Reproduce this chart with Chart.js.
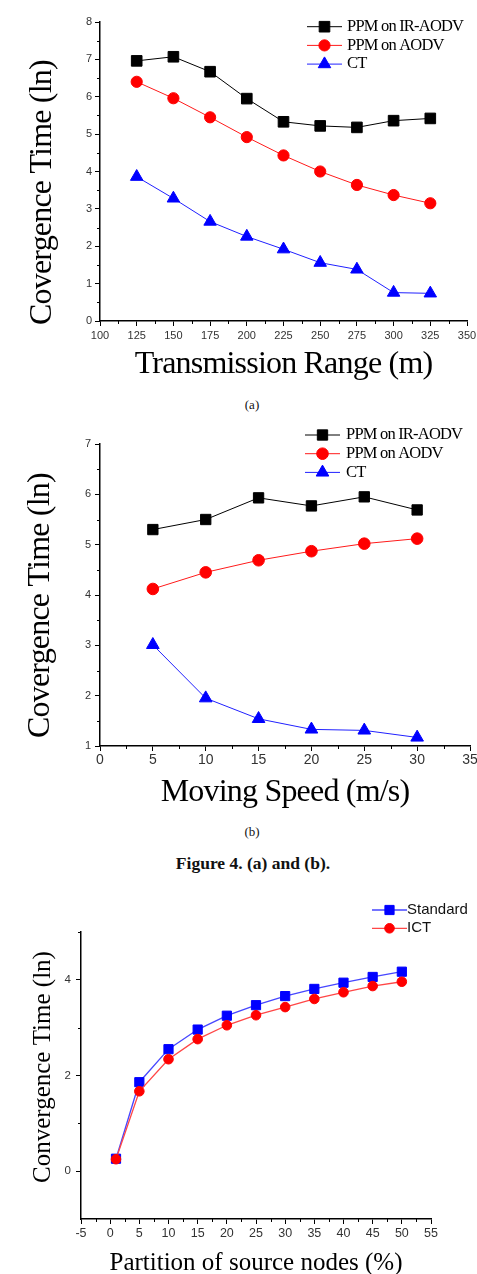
<!DOCTYPE html>
<html><head><meta charset="utf-8">
<script src="https://cdn.jsdelivr.net/npm/chart.js@4.4.0/dist/chart.umd.min.js"></script>
<style>
html,body{margin:0;padding:0;background:#fff;}
body{width:477px;height:1274px;overflow:hidden;position:relative;}
canvas{position:absolute;left:0;}
.cap{position:absolute;font-family:"Liberation Serif","Times New Roman",serif;color:#111;white-space:nowrap;transform:translateX(-50%);}
</style></head><body>
<canvas id="ca" width="490" height="392" style="top:0px"></canvas>
<div class="cap" style="left:252px;top:397px;font-size:13px;line-height:16px;">(a)</div>
<canvas id="cb" width="490" height="392" style="top:420px"></canvas>
<div class="cap" style="left:252px;top:824px;font-size:13px;line-height:16px;">(b)</div>
<div class="cap" style="left:253px;top:853px;font-size:17.5px;line-height:20px;font-weight:bold;">Figure 4. (a) and (b).</div>
<canvas id="cc" width="490" height="420" style="top:870px"></canvas>
<script>
// ---- Chart (a): Transmission Range ----
const xA = [125, 150, 175, 200, 225, 250, 275, 300, 325];
const irA = [6.96, 7.07, 6.67, 5.95, 5.33, 5.22, 5.18, 5.36, 5.42];
const aodvA = [6.40, 5.96, 5.45, 4.92, 4.43, 4.00, 3.64, 3.37, 3.15];
const ctA = [3.86, 3.28, 2.66, 2.26, 1.92, 1.56, 1.38, 0.76, 0.74];
const xTicksA = [100, 125, 150, 175, 200, 225, 250, 275, 300, 325, 350];
const xLabelsA = ['100','125','150','175','200','225','250','275','300','325','350'];
const yTicksA = [0, 1, 2, 3, 4, 5, 6, 7, 8];
const yLabelsA = ['0','1','2','3','4','5','6','7','8'];

// ---- Chart (b): Moving Speed ----
const xB = [5, 10, 15, 20, 25, 30];
const irB = [5.30, 5.50, 5.93, 5.77, 5.95, 5.69];
const aodvB = [4.12, 4.45, 4.69, 4.87, 5.02, 5.12];
const ctB = [3.01, 1.95, 1.54, 1.33, 1.31, 1.17];
const xTicksB = [0, 5, 10, 15, 20, 25, 30, 35];
const xLabelsB = ['0','5','10','15','20','25','30','35'];
const yTicksB = [1, 2, 3, 4, 5, 6, 7];
const yLabelsB = ['1','2','3','4','5','6','7'];

// ---- Chart (c): Partition of source nodes ----
const xC = [1, 5, 10, 15, 20, 25, 30, 35, 40, 45, 50];
const stdC = [0.26, 1.86, 2.55, 2.96, 3.25, 3.47, 3.66, 3.81, 3.94, 4.06, 4.17];
const ictC = [0.25, 1.67, 2.34, 2.76, 3.05, 3.26, 3.43, 3.60, 3.74, 3.87, 3.96];
const xTicksC = [-5, 0, 5, 10, 15, 20, 25, 30, 35, 40, 45, 50, 55];
const xLabelsC = ['-5','0','5','10','15','20','25','30','35','40','45','50','55'];
const yTicksC = [0, 2, 4];
const yLabelsC = ['0','2','4'];
const yMinorC = [1, 3, 5];

const SERIF = '"Liberation Serif","Times New Roman",serif';
const SANS = '"Liberation Sans",Arial,sans-serif';

function pts(xs, ys) { return xs.map((x, i) => ({x: x, y: ys[i]})); }
function mids(arr) { const r = []; for (let i = 0; i < arr.length - 1; i++) r.push((arr[i] + arr[i+1]) / 2); return r; }

const titleFx = {
  id: 'titleFx',
  beforeDraw(chart, args, opts) {
    Object.values(chart.scales).forEach(s => {
      if (s._fxPatched) return;
      const orig = s.drawTitle;
      const o = opts[s.id] || {};
      const ls = o.ls || 0, dx = o.dx || 0, dy = o.dy || 0;
      s.drawTitle = function () {
        const ctx = this.ctx; ctx.save();
        ctx.letterSpacing = ls + 'px';
        ctx.translate(dx, dy);
        orig.call(this);
        ctx.restore();
      };
      s._fxPatched = true;
    });
  }
};

const minorTicks = {
  id: 'minorTicks',
  afterDraw(chart, args, o) {
    const ctx = chart.ctx, xs = chart.scales.x, ys = chart.scales.y;
    ctx.save(); ctx.strokeStyle = '#000'; ctx.lineWidth = 1;
    (o.x || []).forEach(v => {
      const p = Math.round(xs.getPixelForValue(v)) + 0.5;
      ctx.beginPath(); ctx.moveTo(p, xs.top); ctx.lineTo(p, xs.top + o.len); ctx.stroke();
    });
    (o.y || []).forEach(v => {
      const p = Math.round(ys.getPixelForValue(v)) + 0.5;
      ctx.beginPath(); ctx.moveTo(ys.right, p); ctx.lineTo(ys.right - o.len, p); ctx.stroke();
    });
    ctx.restore();
  }
};

function drawMarker(ctx, style, r, x, y) {
  if (Chart.helpers && Chart.helpers.drawPoint) {
    Chart.helpers.drawPoint(ctx, {pointStyle: style, radius: r, rotation: 0, borderWidth: 1}, x, y);
    return;
  }
  ctx.beginPath();
  if (style === 'rect') { const s = r * Math.SQRT1_2; ctx.rect(x - s, y - s, 2*s, 2*s); }
  else if (style === 'triangle') { ctx.moveTo(x, y - r); ctx.lineTo(x + r*0.866, y + r/2); ctx.lineTo(x - r*0.866, y + r/2); ctx.closePath(); }
  else ctx.arc(x, y, r, 0, Math.PI*2);
  ctx.fill(); ctx.stroke();
}

const lineLegend = {
  id: 'lineLegend',
  afterDraw(chart, args, o) {
    const ctx = chart.ctx;
    chart.data.datasets.forEach((ds, i) => {
      const y = o.y + i * o.dy;
      ctx.save();
      ctx.strokeStyle = ds.borderColor; ctx.lineWidth = ds.borderWidth;
      ctx.beginPath(); ctx.moveTo(o.x, y); ctx.lineTo(o.x + o.len, y); ctx.stroke();
      ctx.fillStyle = ds.pointBackgroundColor; ctx.strokeStyle = ds.pointBorderColor; ctx.lineWidth = 1;
      drawMarker(ctx, ds.pointStyle, ds.pointRadius, o.x + o.len / 2, y);
      ctx.letterSpacing = (o.ls || 0) + 'px';
      ctx.font = o.font; ctx.fillStyle = o.color; ctx.textBaseline = 'middle'; ctx.textAlign = 'left';
      ctx.fillText(ds.label, o.tx, y);
      ctx.restore();
    });
  }
};

function ds(label, xs, ys, color, lineColor, style, r, lw, order) {
  return {
    label: label, data: pts(xs, ys), borderColor: lineColor, borderWidth: lw,
    pointStyle: style, pointRadius: r, pointHoverRadius: r,
    pointBackgroundColor: color, pointBorderColor: color, pointBorderWidth: 1,
    tension: 0, fill: false, order: order || 0, clip: false
  };
}

function axis(o) {
  return {
    type: 'linear', position: o.pos, min: o.min, max: o.max,
    afterBuildTicks: s => { s.ticks = o.ticks.map(v => ({value: v})); },
    afterFit: s => { if (o.pos === 'left') s.width = o.size; else s.height = o.size; },
    grid: {drawOnChartArea: false, drawTicks: true, tickLength: o.tl, tickColor: '#000', tickWidth: 1},
    border: {display: true, color: '#000', width: 1.5},
    ticks: {
      autoSkip: false, maxRotation: 0, minRotation: 0, padding: o.pad, color: '#333',
      font: {family: SANS, size: o.fs},
      callback: (v, i) => o.labels[i]
    },
    title: {display: true, text: o.title, color: '#000', font: {family: SERIF, size: o.tfs, lineHeight: 1},
      align: o.pos === 'left' ? 'start' : 'center',
      padding: o.pos === 'left' ? {top: o.tpad, bottom: 0} : {top: 0, bottom: o.tpad}}
  };
}

function make(id, cfg) {
  return new Chart(document.getElementById(id), {
    type: 'line',
    data: {datasets: cfg.datasets},
    options: {
      responsive: false, animation: false, devicePixelRatio: 1,
      layout: {padding: cfg.padding},
      scales: {x: axis(cfg.x), y: axis(cfg.y)},
      plugins: {
        legend: {display: false}, tooltip: {enabled: false},
        titleFx: cfg.titleFx, minorTicks: cfg.minor, lineLegend: cfg.legend
      },
      events: []
    },
    plugins: [titleFx, minorTicks, lineLegend]
  });
}

const legSerif = 'normal 16.5px ' + SERIF;

make('ca', {
  datasets: [
    ds('PPM on IR-AODV', xA, irA, '#000', '#000', 'rect', 7.5, 1),
    ds('PPM on AODV', xA, aodvA, '#ff0000', '#ff1a1a', 'circle', 5.6, 1),
    ds('CT', xA, ctA, '#0000ff', '#2020ff', 'triangle', 7.2, 1)
  ],
  padding: {left: 0, top: 22, right: 23, bottom: 0},
  x: {pos: 'bottom', min: 100, max: 350, ticks: xTicksA, labels: xLabelsA, size: 71, tl: 5, pad: 3, fs: 11,
      title: 'Transmission Range (m)', tfs: 32, tpad: 11},
  y: {pos: 'left', min: 0, max: 8, ticks: yTicksA, labels: yLabelsA, size: 100, tl: 5, pad: 3, fs: 11,
      title: 'Covergence Time (ln)', tfs: 32, tpad: 27},
  titleFx: {x: {ls: -0.8}, y: {ls: -0.8, dy: 4}},
  minor: {x: mids(xTicksA), y: mids(yTicksA), len: 3},
  legend: {x: 307, len: 35, tx: 347, y: 26.7, dy: 18.7, font: legSerif, color: '#000', ls: -0.8}
});

make('cb', {
  datasets: [
    ds('PPM on IR-AODV', xB, irB, '#000', '#000', 'rect', 7.3, 1),
    ds('PPM on AODV', xB, aodvB, '#ff0000', '#ff1a1a', 'circle', 5.8, 1),
    ds('CT', xB, ctB, '#0000ff', '#2020ff', 'triangle', 7.3, 1)
  ],
  padding: {left: 0, top: 24, right: 20, bottom: 0},
  x: {pos: 'bottom', min: 0, max: 35, ticks: xTicksB, labels: xLabelsB, size: 66, tl: 5, pad: 1, fs: 14,
      title: 'Moving Speed (m/s)', tfs: 32, tpad: 3},
  y: {pos: 'left', min: 1, max: 7, ticks: yTicksB, labels: yLabelsB, size: 100, tl: 5, pad: 4, fs: 11,
      title: 'Covergence Time (ln)', tfs: 32, tpad: 25},
  titleFx: {x: {ls: -0.8}, y: {ls: -0.8, dy: -8}},
  minor: {x: mids(xTicksB), y: mids(yTicksB), len: 3},
  legend: {x: 305, len: 35, tx: 346, y: 15, dy: 18.7, font: legSerif, color: '#000', ls: -0.8}
});

make('cc', {
  datasets: [
    ds('Standard', xC, stdC, '#0000ff', '#4646ff', 'rect', 6.5, 1.3, 1),
    ds('ICT', xC, ictC, '#ff0000', '#ff4646', 'circle', 4.8, 1.3, 0)
  ],
  padding: {left: 0, top: 62, right: 59, bottom: 0},
  x: {pos: 'bottom', min: -5, max: 55, ticks: xTicksC, labels: xLabelsC, size: 71, tl: 5, pad: 2.5, fs: 12.5,
      title: 'Partition of source nodes (%)', tfs: 25, tpad: 14},
  y: {pos: 'left', min: -1, max: 5, ticks: yTicksC, labels: yLabelsC, size: 81, tl: 5, pad: 5, fs: 11.5,
      title: 'Convergence Time (ln)', tfs: 25, tpad: 30.5},
  titleFx: {x: {ls: 0}, y: {ls: 0, dy: -36}},
  minor: {x: mids(xTicksC), y: yMinorC, len: 3},
  legend: {x: 372, len: 35, tx: 407, y: 40, dy: 18.3, font: '15px ' + SANS, color: '#111', ls: 0}
});
</script>
</body></html>
